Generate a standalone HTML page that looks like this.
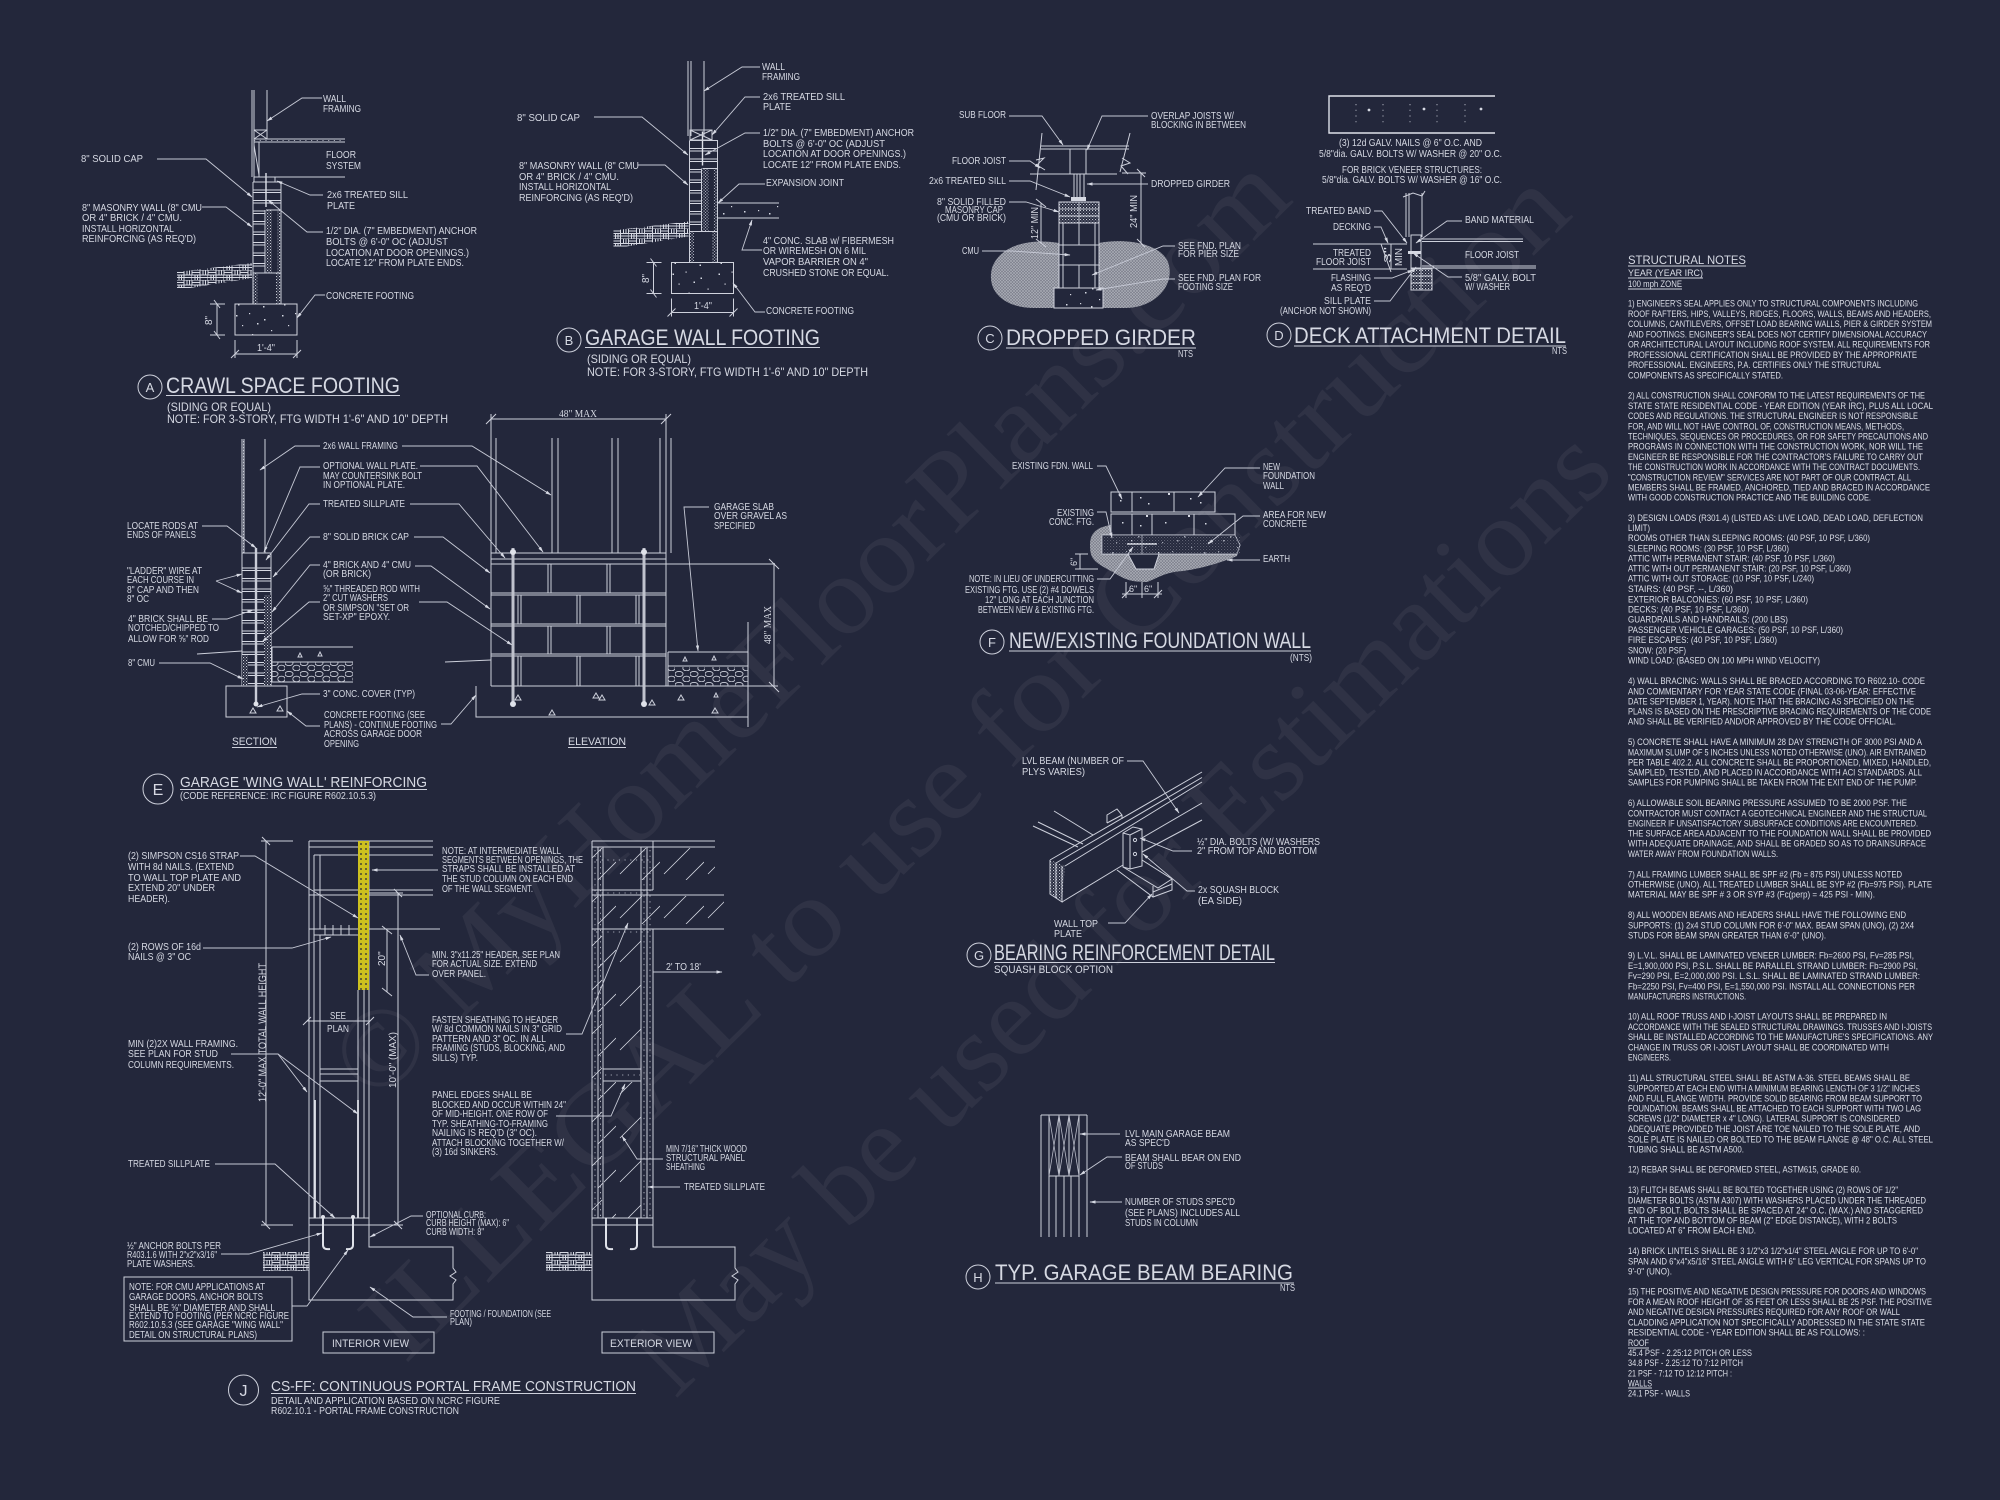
<!DOCTYPE html>
<html><head><meta charset="utf-8"><style>
html,body{margin:0;padding:0;background:#23273b}
svg{display:block;filter:blur(.3px)}
text{font-family:"Liberation Sans","DejaVu Sans",sans-serif;fill:#d6d9e3;font-size:10px}
.s{font-size:9.5px;fill:#dcdfe8}
.m{font-size:12px}
.tt{font-size:22px;fill:#d6d9e3}
.c{font-size:13px;text-anchor:middle}
.w text{font-family:"Liberation Serif",serif;font-size:112px;fill:#fff;fill-opacity:.055}
.d{fill:none;stroke:#cdd0db;stroke-width:1}
.b{fill:none;stroke:#dfe2ea;stroke-width:1.4}
.l{fill:none;stroke:#c6c9d5;stroke-width:.9;marker-end:url(#a)}
.n{fill:none;stroke:#cdd0db;stroke-width:.8;stroke-dasharray:1.2 4.5}
</style></head><body>
<svg width="2000" height="1500" viewBox="0 0 2000 1500" xmlns="http://www.w3.org/2000/svg">
<defs>
<marker id="a" markerWidth="6" markerHeight="4" refX="5.5" refY="2" orient="auto" markerUnits="userSpaceOnUse"><path d="M0 0.4L6 2L0 3.6z" fill="#d6d9e3"/></marker>
<pattern id="hd" width="3" height="3" patternUnits="userSpaceOnUse"><rect width="3" height="3" fill="#23273b"/><rect x="0" y="0" width="1.1" height="1.1" fill="#c8cbd6"/><rect x="1.5" y="1.5" width="1" height="1" fill="#aeb1bf"/></pattern>
<pattern id="ea" width="3" height="3" patternUnits="userSpaceOnUse"><rect width="3" height="3" fill="#7c7f8b"/><path d="M0 3L3 0M0 0L3 3" stroke="#aeb1bb" stroke-width=".6"/></pattern>
<pattern id="co" width="46" height="31" patternUnits="userSpaceOnUse"><g fill="#d6d9e3"><rect x="6" y="5" width="1.5" height="1.5"/><rect x="19" y="3" width="1.2" height="1.2"/><rect x="34" y="9" width="1.5" height="1.5"/><rect x="12" y="15" width="1.2" height="1.2"/><rect x="27" y="13" width="1.5" height="1.5"/><rect x="41" y="20" width="1.2" height="1.2"/><rect x="8" y="25" width="1.5" height="1.5"/><rect x="22" y="24" width="1.2" height="1.2"/><rect x="33" y="27" width="1.5" height="1.5"/></g></pattern>
<pattern id="cc" width="10.5" height="10.5" patternUnits="userSpaceOnUse"><path d="M0 1H12M0 3.5H12" stroke="#d6d9e3" stroke-width="1"/></pattern>
<pattern id="gn" width="16" height="10" patternUnits="userSpaceOnUse"><path d="M0 0H8V10M0 2.500H8M0 5H8M0 7.500H8M8 0H16V10M8 0V10M11 0V5M13.500 0V5M8 5H16M8 7.500H16M0 0V5M3 5V10M5.500 5V10" stroke="#d6d9e3" stroke-width="1" fill="none"/></pattern>
<pattern id="gr" width="15" height="11" patternUnits="userSpaceOnUse"><ellipse cx="4" cy="3" rx="4" ry="2.6" fill="none" stroke="#c8cbd6" stroke-width=".9"/><ellipse cx="11.5" cy="8" rx="3.7" ry="2.8" fill="none" stroke="#c8cbd6" stroke-width=".9"/></pattern>
<pattern id="dg" width="44" height="44" patternUnits="userSpaceOnUse"><path d="M4 38L30 12M26 44L44 26" stroke="#d6d9e3" stroke-width=".8"/></pattern>
<g id="fw">
<rect x="253" y="182" width="28" height="28" fill="url(#cc)"/><rect x="253" y="210" width="12" height="63" fill="url(#cc)"/>
<rect x="266" y="210" width="6" height="63" fill="url(#hd)"/><rect x="277" y="210" width="4" height="63" fill="url(#hd)"/>
<rect x="253" y="273" width="5" height="31" fill="url(#hd)"/><rect x="276" y="273" width="5" height="31" fill="url(#hd)"/>
<path class="d" d="M253 182H281V304M253 182V304M265 210V273M253 273H281M266 210H281"/>
<path class="b" d="M266 173V207"/>
<rect x="235" y="304" width="62" height="31" fill="url(#co)" stroke="#d0d3dd"/>
<path d="M177 272L252 263V278L190 288H177Z" fill="url(#gn)"/>
<path class="d" d="M217 304V335M210 304H225M210 335H225M214 300L220 308M214 331L220 339M235 354H297M235 340V358M297 340V358M231 358L239 350M293 358L301 350"/>
</g>
</defs>
<rect width="2000" height="1500" fill="#23273b"/>
<g class="w">
<text transform="translate(375 1105) rotate(-44.5)" textLength="1290">© MyHomeFloorPlans.com</text>
<text transform="translate(405 1365) rotate(-44.5)" textLength="1640">ILLEGAL to use for Construction</text>
<text transform="translate(675 1400) rotate(-44.5)" textLength="1320">May be used for Estimations</text>
</g>

<!-- A -->
<use href="#fw"/>
<path class="d" d="M252 90V177M254 90V177M267 90V139M254 139H345M254 142H345M254 177H345M259 142V177M254 130H267M254 130L267 139M267 130L254 139M254 145L259 175M254 182V177H275V182"/>
<path class="n" d="M254 140.5H345"/>
<polyline class="l" points="322,98 302,98 267,121"/><polyline class="l" points="157,159 206,159 252,197"/><polyline class="l" points="202,207 226,207 252,227"/><polyline class="l" points="323,195 310,195 277,181"/><polyline class="l" points="323,232 307,232 268,200"/><polyline class="l" points="325,295 315,295 297,318"/>
<text x="323" y="102" textLength="23">WALL</text><text x="323" y="112" textLength="38">FRAMING</text>
<text x="81" y="162" textLength="62">8" SOLID CAP</text>
<text x="82" y="211" textLength="120">8" MASONRY WALL (8" CMU</text><text x="82" y="221" textLength="100">OR 4" BRICK / 4" CMU.</text><text x="82" y="232" textLength="92">INSTALL HORIZONTAL</text><text x="82" y="242" textLength="114">REINFORCING (AS REQ'D)</text>
<text x="326" y="158" textLength="30">FLOOR</text><text x="326" y="169" textLength="35">SYSTEM</text>
<text x="327" y="198" textLength="81">2x6 TREATED SILL</text><text x="327" y="209" textLength="28">PLATE</text>
<text x="326" y="234" textLength="151">1/2" DIA. (7" EMBEDMENT) ANCHOR</text><text x="326" y="245" textLength="122">BOLTS @ 6'-0" OC (ADJUST</text><text x="326" y="256" textLength="143">LOCATION AT DOOR OPENINGS.)</text><text x="326" y="266" textLength="138">LOCATE 12" FROM PLATE ENDS.</text>
<text x="326" y="299" textLength="88">CONCRETE FOOTING</text>
<text transform="translate(212 325) rotate(-90)">8"</text><text x="257" y="351" textLength="18">1'-4"</text>
<circle class="d" cx="150" cy="387" r="12"/><text class="c" x="150" y="392">A</text>
<text class="tt" x="166" y="393" textLength="234">CRAWL SPACE FOOTING</text><path class="d" d="M166 395.5H400"/>
<text class="m" x="167" y="411" textLength="104">(SIDING OR EQUAL)</text><text class="m" x="167" y="423" textLength="281">NOTE: FOR 3-STORY, FTG WIDTH 1'-6" AND 10" DEPTH</text>

<!-- B -->
<use href="#fw" transform="translate(436.5 -41.5)"/>
<path class="d" d="M688 61V136M691 61V136M704 61V136M690 130H712V140H690ZM690 130L712 140M712 130L690 140M718 203H779M718 218H779"/>
<rect x="718" y="204" width="61" height="13" fill="url(#co)"/>
<polyline class="l" points="760,67 742,67 704,91"/><polyline class="l" points="760,97 745,97 712,135"/><polyline class="l" points="760,133 745,133 705,155"/><polyline class="l" points="765,184 739,184 718,203"/><polyline class="l" points="594,117 642,117 688,155"/><polyline class="l" points="638,165 665,165 688,185"/><polyline class="l" points="762,250 742,250 752,220"/><polyline class="l" points="765,312 755,312 733,283"/>
<text x="762" y="70" textLength="23">WALL</text><text x="762" y="80" textLength="38">FRAMING</text>
<text x="763" y="100" textLength="82">2x6 TREATED SILL</text><text x="763" y="110" textLength="28">PLATE</text>
<text x="763" y="136" textLength="151">1/2" DIA. (7" EMBEDMENT) ANCHOR</text><text x="763" y="147" textLength="122">BOLTS @ 6'-0" OC (ADJUST</text><text x="763" y="157" textLength="143">LOCATION AT DOOR OPENINGS.)</text><text x="763" y="168" textLength="138">LOCATE 12" FROM PLATE ENDS.</text>
<text x="766" y="186" textLength="78">EXPANSION JOINT</text>
<text x="517" y="121" textLength="63">8" SOLID CAP</text>
<text x="519" y="169" textLength="120">8" MASONRY WALL (8" CMU</text><text x="519" y="180" textLength="100">OR 4" BRICK / 4" CMU.</text><text x="519" y="190" textLength="92">INSTALL HORIZONTAL</text><text x="519" y="201" textLength="114">REINFORCING (AS REQ'D)</text>
<text x="763" y="244" textLength="131">4" CONC. SLAB w/ FIBERMESH</text><text x="763" y="254" textLength="103">OR WIREMESH ON 6 MIL</text><text x="763" y="265" textLength="105">VAPOR BARRIER ON 4"</text><text x="763" y="276" textLength="126">CRUSHED STONE OR EQUAL.</text>
<text x="766" y="314" textLength="88">CONCRETE FOOTING</text>
<text transform="translate(649 283) rotate(-90)">8"</text><text x="694" y="309" textLength="18">1'-4"</text>
<circle class="d" cx="569" cy="340" r="12"/><text class="c" x="569" y="345">B</text>
<text class="tt" x="585" y="345" textLength="235">GARAGE WALL FOOTING</text><path class="d" d="M585 347.5H820"/>
<text class="m" x="587" y="363" textLength="104">(SIDING OR EQUAL)</text><text class="m" x="587" y="376" textLength="281">NOTE: FOR 3-STORY, FTG WIDTH 1'-6" AND 10" DEPTH</text>

<!-- C -->
<path d="M1059 243C1030 238 1000 245 992 268C986 292 1005 308 1035 308H1125C1155 308 1176 285 1168 262C1160 243 1125 238 1099 243Z" fill="url(#ea)"/>
<path class="d" d="M1041 146H1129M1041 149H1129M1030 174H1117M1070 149V174M1086 149V174M1042 133L1036 190M1130 133L1120 172M1036 160L1044 158L1037 165L1045 170M1122 158L1130 163L1121 166L1128 174"/>
<path class="d" d="M1074 174V197M1077 174V197M1080 174V197M1084 174V197"/>
<rect x="1071" y="197" width="15" height="4" fill="#d6d9e3"/>
<rect x="1059" y="202" width="40" height="21" fill="url(#hd)" stroke="#d0d3dd"/>
<path class="d" d="M1059 209H1099M1059 216H1099M1079 202V223"/>
<rect x="1059" y="223" width="40" height="65" fill="#23273b" stroke="#d0d3dd"/>
<path class="d" d="M1079 223V245M1079 265V288M1059 245H1099M1059 265H1099M1063 223V288M1095 223V288"/>
<rect x="1054" y="288" width="49" height="20" fill="#23273b" stroke="#d0d3dd"/><rect x="1054" y="288" width="49" height="20" fill="url(#co)"/>
<path class="d" d="M1141 173V243M1122 173H1146M1137 169L1145 177M1137 239L1145 247M1041 203V243M1036 199L1046 207M1036 239L1046 247"/>
<polyline class="l" points="1009,116 1042,116 1063,145"/><polyline class="l" points="1148,116 1102,116 1087,150"/><polyline class="l" points="1009,161 1030,161 1040,168"/><polyline class="l" points="1009,181 1030,181 1070,197"/><polyline class="l" points="1009,202 1026,202 1059,212"/><polyline class="l" points="982,251 1012,251 1070,255"/><polyline class="l" points="1148,184 1087,184"/><polyline class="l" points="1175,246 1163,246 1092,275"/><polyline class="l" points="1175,279 1163,279 1096,290"/>
<text x="959" y="118" textLength="47">SUB FLOOR</text><text x="1151" y="119" textLength="83">OVERLAP JOISTS W/</text><text x="1151" y="128" textLength="95">BLOCKING IN BETWEEN</text>
<text x="952" y="164" textLength="54">FLOOR JOIST</text><text x="929" y="184" textLength="77">2x6 TREATED SILL</text>
<text x="937" y="205" textLength="69">8" SOLID FILLED</text><text x="945" y="213" textLength="58">MASONRY CAP</text><text x="937" y="221" textLength="69">(CMU OR BRICK)</text>
<text x="962" y="254" textLength="17">CMU</text><text x="1151" y="187" textLength="79">DROPPED GIRDER</text>
<text x="1178" y="249" textLength="63">SEE FND. PLAN</text><text x="1178" y="257" textLength="61">FOR PIER SIZE</text><text x="1178" y="281" textLength="83">SEE FND. PLAN FOR</text><text x="1178" y="290" textLength="55">FOOTING SIZE</text>
<text transform="translate(1137 228) rotate(-90)" textLength="33">24" MIN</text><text transform="translate(1038 239) rotate(-90)" textLength="32">12" MIN</text>
<circle class="d" cx="990" cy="338" r="12"/><text class="c" x="990" y="343">C</text>
<text class="tt" x="1006" y="345" textLength="190">DROPPED GIRDER</text><path class="d" d="M1006 348H1196"/><text x="1178" y="357" textLength="15">NTS</text>

<!-- D -->
<path class="b" d="M1495 96H1329V133H1495"/>
<path class="n" d="M1356 104V126M1383 104V126M1410 104V126M1437 104V126M1465 104V126" stroke-width="1.2"/>
<g fill="#d6d9e3"><circle cx="1369" cy="110" r="1.4"/><circle cx="1424" cy="109" r="1.4"/><circle cx="1481" cy="109" r="1.4"/></g>
<text x="1339" y="146" textLength="143">(3) 12d GALV. NAILS @ 6" O.C. AND</text><text x="1319" y="157" textLength="183">5/8"dia. GALV. BOLTS W/ WASHER @ 20" O.C.</text><text x="1342" y="173" textLength="140">FOR BRICK VENEER STRUCTURES:</text><text x="1322" y="183" textLength="180">5/8"dia. GALV. BOLTS W/ WASHER @ 16" O.C.</text>
<path class="d" d="M1406 193V237M1409 193V237M1422 193V237M1403 197L1413 193L1422 196L1425 191M1313 244H1407M1313 269H1407M1422 239H1523M1422 241.500H1523M1422 266H1536M1422 268H1536M1411 235H1421V268H1411ZM1391 244V269M1381 244L1391 272"/>
<rect x="1411" y="269" width="21" height="21" fill="url(#hd)" stroke="#d0d3dd"/><path class="d" d="M1411 276H1432M1411 283H1432M1421 269V290"/>
<rect x="1408" y="251" width="13" height="3" fill="#d6d9e3"/>
<text transform="translate(1391 263) rotate(-90)" textLength="16">3"</text><text transform="translate(1402 266) rotate(-90)" textLength="18">MIN</text>
<polyline class="l" points="1374,211 1382,211 1407,243"/><polyline class="l" points="1374,227 1381,227 1388,243"/><polyline class="l" points="1374,278 1392,278 1413,270"/><polyline class="l" points="1374,301 1390,301 1416,267"/><polyline class="l" points="1462,221 1447,221 1416,243"/><polyline class="l" points="1462,277 1448,277 1413,253"/>
<text x="1306" y="214" textLength="65">TREATED BAND</text><text x="1333" y="230" textLength="38">DECKING</text><text x="1333" y="256" textLength="38">TREATED</text><text x="1316" y="265" textLength="55">FLOOR JOIST</text><text x="1331" y="281" textLength="40">FLASHING</text><text x="1331" y="291" textLength="40">AS REQ'D</text><text x="1324" y="304" textLength="47">SILL PLATE</text><text x="1280" y="314" textLength="91">(ANCHOR NOT SHOWN)</text>
<text x="1465" y="223" textLength="69">BAND MATERIAL</text><text x="1465" y="258" textLength="54">FLOOR JOIST</text><text x="1465" y="281" textLength="71">5/8" GALV. BOLT</text><text x="1465" y="290" textLength="45">W/ WASHER</text>
<circle class="d" cx="1279" cy="335" r="12"/><text class="c" x="1279" y="340">D</text>
<text class="tt" x="1294" y="343" textLength="272">DECK ATTACHMENT DETAIL</text><path class="d" d="M1294 346H1566"/><text x="1552" y="354" textLength="15">NTS</text>

<!-- E section -->
<rect x="242" y="439" width="2" height="114" fill="url(#hd)"/>
<path class="d" d="M242 439V686M244 439V553M265 439V553M242 553H271M242 686H271M271 553V686"/>
<rect x="242" y="565" width="29" height="30" fill="url(#cc)"/><rect x="242" y="595" width="22" height="91" fill="url(#cc)"/>
<rect x="264" y="595" width="7" height="91" fill="url(#hd)"/><rect x="242" y="655" width="6" height="31" fill="url(#hd)"/>
<rect x="226" y="686" width="61" height="31" fill="#23273b" stroke="#d0d3dd"/>
<path d="M256 548V704" stroke="#c9ccd7" stroke-width="2.4"/><circle cx="256" cy="704" r="2.5" fill="#dfe2ea"/>
<path class="d" d="M197 654L242 651M272 647H353M272 662H353M272 647V682H353"/>
<rect x="272" y="662" width="81" height="20" fill="url(#gr)"/>
<polyline class="l" points="202,526 227,526 256,548"/><polyline class="l" points="216,581 242,574"/><polyline class="l" points="216,581 242,593"/><polyline class="l" points="212,619 227,619 253,610"/><polyline class="l" points="159,663 210,663 243,679"/>
<polyline class="l" points="320,446 295,446 260,470"/><polyline class="l" points="402,446 472,446 551,495"/><polyline class="l" points="320,467 300,467 264,552"/><polyline class="l" points="420,466 477,466 543,552"/><polyline class="l" points="320,504 309,504 266,560"/><polyline class="l" points="410,504 459,504 505,558"/><polyline class="l" points="320,537 310,537 273,577"/><polyline class="l" points="414,537 443,537 490,573"/><polyline class="l" points="320,565 310,565 272,612"/><polyline class="l" points="415,566 431,566 490,609"/><polyline class="l" points="320,602 309,602 262,642"/><polyline class="l" points="419,602 447,602 512,645"/><polyline class="l" points="320,694 302,694 257,707"/><polyline class="l" points="320,726 306,726 287,711"/><polyline class="l" points="441,724 451,724 476,695"/><polyline class="l" points="709,507 684,507 698,651"/>
<!-- E elevation -->
<path class="d" d="M491 414V686M666 414V686M486 424L496 414M661 424L671 414M491 419H666M496 438V553M552 438V553M558 438V553M612 438V553M618 438V553M660 438V553M671 438V553M491 553H666M491 559H666M491 564H666M491 593H666M491 595H666M491 624H666M491 626H666M491 654H666M491 656H666M491 686H748"/>
<path class="d" d="M548 564V593M551 564V593M607 564V593M610 564V593M518 595V624M521 595V624M577 595V624M580 595V624M636 595V624M639 595V624M548 626V654M551 626V654M607 626V654M610 626V654M518 656V686M521 656V686M577 656V686M580 656V686M636 656V686M639 656V686"/>
<path d="M513 548V704M644 548V704" stroke="#bfc2cd" stroke-width="3"/><g fill="#dfe2ea"><circle cx="513" cy="704" r="3"/><circle cx="644" cy="704" r="3"/><circle cx="513" cy="552" r="3"/><circle cx="644" cy="552" r="3"/></g>
<path class="d" d="M476 686V717H748M748 622V727M445 662L491 660M668 652H748M668 652V686M668 666H748M666 564H775M774 563V687M769 559L779 569M769 682L779 692M748 686H778"/>
<rect x="668" y="667" width="80" height="19" fill="url(#gr)"/>
<g class="d"><path d="M518 695l3 5h-6zM596 693l3 5h-6zM602 695l3 5h-6zM652 700l3 5h-6zM681 695l3 5h-6zM715 708l3 5h-6zM552 710l3 5h-6zM685 657l2 4h-4zM714 656l2 4h-4zM716 693l2 4h-4zM300 653l2 4h-4zM320 652l2 4h-4zM280 706l3 5h-6zM253 708l3 5h-6z"/></g>
<text x="127" y="529" textLength="71">LOCATE RODS AT</text><text x="127" y="538" textLength="69">ENDS OF PANELS</text>
<text x="127" y="574" textLength="75">"LADDER" WIRE AT</text><text x="127" y="583" textLength="67">EACH COURSE IN</text><text x="127" y="593" textLength="72">8" CAP AND THEN</text><text x="127" y="602" textLength="22">8" OC</text>
<text x="128" y="622" textLength="80">4" BRICK SHALL BE</text><text x="128" y="631" textLength="91">NOTCHED/CHIPPED TO</text><text x="128" y="642" textLength="81">ALLOW FOR ⅝" ROD</text><text x="128" y="666" textLength="27">8" CMU</text>
<text x="323" y="449" textLength="75">2x6 WALL FRAMING</text><text x="323" y="469" textLength="95">OPTIONAL WALL PLATE.</text><text x="323" y="479" textLength="99">MAY COUNTERSINK BOLT</text><text x="323" y="488" textLength="82">IN OPTIONAL PLATE.</text><text x="323" y="507" textLength="82">TREATED SILLPLATE</text><text x="323" y="540" textLength="86">8" SOLID BRICK CAP</text><text x="323" y="568" textLength="88">4" BRICK AND 4" CMU</text><text x="323" y="577" textLength="48">(OR BRICK)</text>
<text x="323" y="592" textLength="97">⅝" THREADED ROD WITH</text><text x="323" y="601" textLength="65">2" CUT WASHERS</text><text x="323" y="611" textLength="86">OR SIMPSON "SET OR</text><text x="323" y="620" textLength="67">SET-XP" EPOXY.</text>
<text x="323" y="697" textLength="92">3" CONC. COVER (TYP)</text><text x="324" y="718" textLength="101">CONCRETE FOOTING (SEE</text><text x="324" y="728" textLength="113">PLANS) - CONTINUE FOOTING</text><text x="324" y="737" textLength="98">ACROSS GARAGE DOOR</text><text x="324" y="747" textLength="35">OPENING</text>
<text x="232" y="745" textLength="45" style="font-size:11px">SECTION</text><path class="d" d="M232 747.500H277M568 747.500H626"/><text x="568" y="745" textLength="58" style="font-size:11px">ELEVATION</text>
<text x="559" y="417" textLength="38" style="font-family:'Liberation Serif',serif">48" MAX</text><text transform="translate(771 644) rotate(-90)" textLength="38" style="font-family:'Liberation Serif',serif">48" MAX</text>
<text x="714" y="510" textLength="60">GARAGE SLAB</text><text x="714" y="519" textLength="73">OVER GRAVEL AS</text><text x="714" y="529" textLength="41">SPECIFIED</text>
<circle class="d" cx="158" cy="789" r="15"/><text class="c" x="158" y="795" style="font-size:16px">E</text>
<text x="180" y="787" textLength="247" style="font-size:15px">GARAGE 'WING WALL' REINFORCING</text><path class="d" d="M180 789.500H427"/><text x="180" y="799" textLength="196">(CODE REFERENCE: IRC FIGURE R602.10.5.3)</text>

<!-- J interior -->
<path class="d" d="M309 841V1225M369 841V1225M314 855V1218M320 855V929M320 935V1218M358 990V1218M364 990V1218M309 841H433M309 847H433M314 855H433M314 890H433M309 895H433M320 855V890M309 929H440M314 935H358M320 1069H358M320 1074H358M320 1081H358M309 1218H369M309 1225H369"/>
<path class="d" d="M325 925V935M333 925V935M341 925V935M349 925V935"/>
<path d="M315 1100V1218M358 1100V1218" stroke="#dfe2ea" stroke-width="1.8" fill="none"/>
<rect x="358" y="841" width="11" height="149" fill="#cdc11f"/><path d="M361 843V990M366 843V990" stroke="#23273b" stroke-width="1.2" stroke-dasharray="2 3"/>
<path class="d" d="M309 1225H369V1247H453V1268L456 1272L450 1276L456 1280L453 1284V1300H309Z" fill="url(#co)"/>
<path d="M323 1218V1245Q323 1250 330 1249M353 1218V1245Q353 1250 346 1249" fill="none" stroke="#dfe2ea" stroke-width="2"/><circle cx="323" cy="1217" r="2" fill="#dfe2ea"/><circle cx="353" cy="1217" r="2" fill="#dfe2ea"/>
<path d="M263 1252H309V1271H263Z" fill="url(#gn)"/>
<path class="d" d="M266 841V1225M261 841H293M261 1225H293M262 837L270 845M262 1221L270 1229M398 893V1225M369 893H403M369 1225H403M394 889L402 897M394 1221L402 1229M387 930V992M382 926L392 934M382 988L392 996M307 1021H370M303 1025L311 1017M366 1025L374 1017"/>
<!-- J exterior -->
<path class="d" d="M592 841V1225M653 929V1225M592 841H715M592 847H715M592 890H653M592 895H724M592 929H724M598 847V1218M603 847V1218M641 847V1218M647 847V1218M603 1069H641M603 1081H641M592 1218H653M592 1225H653M653 841V890"/>
<rect x="592" y="848" width="123" height="42" fill="url(#dg)"/><rect x="592" y="896" width="132" height="33" fill="url(#dg)"/><rect x="604" y="936" width="37" height="133" fill="url(#dg)"/><rect x="604" y="1082" width="37" height="136" fill="url(#dg)"/><rect x="592" y="930" width="11" height="288" fill="url(#dg)"/>
<path class="n" d="M595 850V1216M600.500 850V1216M644 850V1216M650 850V1216M596 860H652M596 893H652M596 932H652M605 1075H640"/>
<path class="d" d="M592 1225H653V1247H735V1268L738 1272L732 1276L738 1280L735 1284V1300H592Z" fill="url(#co)"/>
<path d="M606 1218V1245Q606 1250 613 1249M637 1218V1245Q637 1250 630 1249" fill="none" stroke="#dfe2ea" stroke-width="2"/>
<path d="M546 1252H592V1271H546Z" fill="url(#gn)"/>
<polyline class="l" points="653,972 722,972"/>
<polyline class="l" points="240,856 255,856 358,918"/><polyline class="l" points="203,948 292,948 331,937"/><polyline class="l" points="231,1054 278,1054 307,1092"/><polyline class="l" points="278,1054 358,1114"/><polyline class="l" points="215,1164 275,1164 335,1218"/><polyline class="l" points="221,1254 249,1254 322,1233"/><polyline class="l" points="292,1306 307,1306 348,1250"/><polyline class="l" points="438,870 372,870"/><polyline class="l" points="429,975 416,975 400,935"/><polyline class="l" points="566,1034 582,1034 628,923"/><polyline class="l" points="556,1116 611,1116 625,1084"/><polyline class="l" points="663,1159 637,1159 622,1136"/><polyline class="l" points="680,1187 648,1187"/><polyline class="l" points="423,1216 411,1216 370,1237"/><polyline class="l" points="447,1317 413,1317 370,1287"/>
<text x="128" y="859" textLength="111">(2) SIMPSON CS16 STRAP</text><text x="128" y="870" textLength="106">WITH 8d NAILS. (EXTEND</text><text x="128" y="881" textLength="113">TO WALL TOP PLATE AND</text><text x="128" y="891" textLength="87">EXTEND 20" UNDER</text><text x="128" y="902" textLength="42">HEADER).</text>
<text x="128" y="950" textLength="73">(2) ROWS OF 16d</text><text x="128" y="960" textLength="63">NAILS @ 3" OC</text>
<text x="128" y="1047" textLength="110">MIN (2)2X WALL FRAMING.</text><text x="128" y="1057" textLength="90">SEE PLAN FOR STUD</text><text x="128" y="1068" textLength="106">COLUMN REQUIREMENTS.</text>
<text x="128" y="1167" textLength="82">TREATED SILLPLATE</text><text x="127" y="1249" textLength="94">½" ANCHOR BOLTS PER</text><text x="127" y="1258" textLength="90">R403.1.6 WITH 2"x2"x3/16"</text><text x="127" y="1267" textLength="68">PLATE WASHERS.</text>
<rect class="d" x="124" y="1277" width="168" height="64"/>
<text x="129" y="1290" textLength="136">NOTE: FOR CMU APPLICATIONS AT</text><text x="129" y="1300" textLength="134">GARAGE DOORS, ANCHOR BOLTS</text><text x="129" y="1311" textLength="146">SHALL BE ⅝" DIAMETER AND SHALL</text><text x="129" y="1319" textLength="160">EXTEND TO FOOTING (PER NCRC FIGURE</text><text x="129" y="1328" textLength="154">R602.10.5.3 (SEE GARAGE "WING WALL"</text><text x="129" y="1338" textLength="128">DETAIL ON STRUCTURAL PLANS)</text>
<text x="442" y="854" textLength="119">NOTE: AT INTERMEDIATE WALL</text><text x="442" y="863" textLength="141">SEGMENTS BETWEEN OPENINGS, THE</text><text x="442" y="872" textLength="133">STRAPS SHALL BE INSTALLED AT</text><text x="442" y="882" textLength="131">THE STUD COLUMN ON EACH END</text><text x="442" y="892" textLength="91">OF THE WALL SEGMENT.</text>
<text x="432" y="958" textLength="128">MIN. 3"x11.25" HEADER, SEE PLAN</text><text x="432" y="967" textLength="105">FOR ACTUAL SIZE. EXTEND</text><text x="432" y="977" textLength="54">OVER PANEL.</text>
<text x="432" y="1023" textLength="126">FASTEN SHEATHING TO HEADER</text><text x="432" y="1032" textLength="130">W/ 8d COMMON NAILS IN 3" GRID</text><text x="432" y="1042" textLength="114">PATTERN AND 3" OC. IN ALL</text><text x="432" y="1051" textLength="133">FRAMING (STUDS, BLOCKING, AND</text><text x="432" y="1061" textLength="46">SILLS) TYP.</text>
<text x="432" y="1098" textLength="100">PANEL EDGES SHALL BE</text><text x="432" y="1108" textLength="134">BLOCKED AND OCCUR WITHIN 24"</text><text x="432" y="1117" textLength="116">OF MID-HEIGHT. ONE ROW OF</text><text x="432" y="1127" textLength="116">TYP. SHEATHING-TO-FRAMING</text><text x="432" y="1136" textLength="105">NAILING IS REQ'D (3" OC).</text><text x="432" y="1146" textLength="132">ATTACH BLOCKING TOGETHER W/</text><text x="432" y="1155" textLength="66">(3) 16d SINKERS.</text>
<text x="666" y="970" textLength="35">2' TO 18'</text><text x="666" y="1152" textLength="81">MIN 7/16" THICK WOOD</text><text x="666" y="1161" textLength="79">STRUCTURAL PANEL</text><text x="666" y="1170" textLength="39">SHEATHING</text><text x="684" y="1190" textLength="81">TREATED SILLPLATE</text>
<text x="426" y="1218" textLength="60">OPTIONAL CURB:</text><text x="426" y="1226" textLength="83">CURB HEIGHT (MAX): 6"</text><text x="426" y="1235" textLength="58">CURB WIDTH: 8"</text>
<text x="450" y="1317" textLength="101">FOOTING / FOUNDATION (SEE</text><text x="450" y="1325" textLength="22">PLAN)</text>
<text x="330" y="1019" textLength="16">SEE</text><text x="327" y="1032" textLength="22">PLAN</text>
<text transform="translate(266 1102) rotate(-90)" textLength="139" style="font-size:11px">12'-0" MAX TOTAL WALL HEIGHT</text><text transform="translate(396 1088) rotate(-90)" textLength="56">10'-0" (MAX)</text><text transform="translate(385 966) rotate(-90)">20"</text>
<rect class="d" x="323" y="1332" width="111" height="21"/><text x="332" y="1347" textLength="77" style="font-size:11px">INTERIOR VIEW</text><rect class="d" x="602" y="1332" width="112" height="21"/><text x="610" y="1347" textLength="82" style="font-size:11px">EXTERIOR VIEW</text>
<circle class="d" cx="243.500" cy="1390" r="15"/><text class="c" x="243.500" y="1396" style="font-size:16px">J</text>
<text x="271" y="1391" textLength="365" style="font-size:15px">CS-FF: CONTINUOUS PORTAL FRAME CONSTRUCTION</text><path class="d" d="M271 1393.500H636"/><text x="271" y="1404" textLength="229">DETAIL AND APPLICATION BASED ON NCRC FIGURE</text><text x="271" y="1414" textLength="188">R602.10.1 - PORTAL FRAME CONSTRUCTION</text>

<!-- F -->
<path d="M1111 525C1098 527 1090 532 1090 545C1090 558 1093 562 1113 572C1125 580 1132 582 1147 582C1158 578 1165 572 1183 571C1205 568 1225 561 1237 556L1240 540H1111Z" fill="url(#ea)"/>
<rect x="1102" y="535" width="138" height="19" fill="#23273b"/><rect x="1102" y="535" width="138" height="19" fill="url(#co)"/>
<path d="M1128 554L1136 569H1154L1159 554Z" fill="#23273b"/>
<path class="d" d="M1111 492H1215V512H1111ZM1132 492V512M1174 492V512M1111 514H1235V535H1111ZM1132 514V535M1152 514V535M1194 514V535M1102 535H1235L1240 545L1237 554H1102ZM1102 535V554M1142 535V554M1128 554L1136 569H1154L1159 554"/>
<rect x="1127" y="543" width="30" height="2" fill="#e0e3eb"/>
<path d="M1102 535h138v19h-138z" fill="url(#hd)" opacity=".35"/>
<g fill="#d6d9e3"><rect x="1120" y="500" width="1.500" height="1.500"/><rect x="1140" y="497" width="1.500" height="1.500"/><rect x="1148" y="503" width="1.500" height="1.500"/><rect x="1190" y="498" width="1.500" height="1.500"/><rect x="1200" y="502" width="1.500" height="1.500"/><rect x="1122" y="522" width="1.500" height="1.500"/><rect x="1140" y="525" width="1.500" height="1.500"/><rect x="1165" y="522" width="1.500" height="1.500"/><rect x="1205" y="523" width="1.500" height="1.500"/><rect x="1168" y="493" width="2" height="2"/><rect x="1146" y="515" width="2" height="2"/><rect x="1188" y="515" width="2" height="2"/></g>
<path class="d" d="M1126 582V598M1142 582V598M1158 582V598M1122 598L1130 590M1154 598L1162 590M1122 594H1162M1075 554H1088M1075 569H1098M1080 554V569"/>
<text x="1129" y="592" style="font-size:9px">6"</text><text x="1144" y="592" style="font-size:9px">6"</text><text transform="translate(1077 566) rotate(-90)" style="font-size:9px">6"</text>
<polyline class="l" points="1097,466 1106,466 1122,499"/><polyline class="l" points="1097,512 1106,512 1112,538"/><polyline class="l" points="1097,579 1110,579 1133,547"/><polyline class="l" points="1260,468 1225,468 1198,497"/><polyline class="l" points="1260,516 1243,516 1208,544"/><polyline class="l" points="1260,560 1227,560"/>
<text x="1012" y="469" textLength="81">EXISTING FDN. WALL</text><text x="1057" y="516" textLength="37">EXISTING</text><text x="1049" y="525" textLength="45">CONC. FTG.</text>
<text x="969" y="582" textLength="125">NOTE: IN LIEU OF UNDERCUTTING</text><text x="965" y="593" textLength="129">EXISTING FTG. USE (2) #4 DOWELS</text><text x="985" y="603" textLength="109">12" LONG AT EACH JUNCTION</text><text x="978" y="613" textLength="116">BETWEEN NEW &amp; EXISTING FTG.</text>
<text x="1263" y="470" textLength="17">NEW</text><text x="1263" y="479" textLength="52">FOUNDATION</text><text x="1263" y="489" textLength="21">WALL</text><text x="1263" y="518" textLength="63">AREA FOR NEW</text><text x="1263" y="527" textLength="44">CONCRETE</text><text x="1263" y="562" textLength="27">EARTH</text>
<circle class="d" cx="992" cy="642" r="12"/><text class="c" x="992" y="647">F</text>
<text class="tt" x="1009" y="648" textLength="302">NEW/EXISTING FOUNDATION WALL</text><path class="d" d="M1009 651H1311"/><text x="1290" y="661" textLength="22">(NTS)</text>

<!-- G -->
<path d="M1050 860L1065 866L1062 902L1050 894Z" fill="url(#hd)"/>
<path class="d" d="M1050 860L1202 772M1056 863L1202 777.500M1065 866L1202 782M1050 860V894L1062 902V866M1056 863V898M1062 902L1123 865M1142 852L1202 820"/>
<path class="d" d="M1033 826L1078 847M1038 822L1083 844M1054 811L1093 835M1107 823V815L1117 809L1122 815L1122 819M1107 823L1122 815"/>
<path class="d" d="M1123 833L1133 827L1142 829V866L1130 869L1123 867ZM1130 835V869M1123 833L1130 835L1142 829"/>
<circle class="d" cx="1135" cy="840" r="1.600"/><circle class="d" cx="1135" cy="854" r="1.600"/>
<path class="d" d="M1117 870L1153 897L1172 890V879L1142 860M1123 867L1158 888L1172 879M1153 897V886M1153 892L1172 884"/>
<polyline class="l" points="1127,761 1143,761 1179,813"/><polyline class="l" points="1192,851 1173,851 1140,838"/><polyline class="l" points="1195,891 1187,891 1143,854"/><polyline class="l" points="1108,923 1125,923 1152,894"/>
<path class="d" d="M1142 838L1202 803"/>
<text x="1022" y="764" textLength="102">LVL BEAM (NUMBER OF</text><text x="1022" y="775" textLength="63">PLYS VARIES)</text><text x="1197" y="845" textLength="123">½" DIA. BOLTS (W/ WASHERS</text><text x="1197" y="854" textLength="120">2" FROM TOP AND BOTTOM</text><text x="1198" y="893" textLength="81">2x SQUASH BLOCK</text><text x="1198" y="904" textLength="44">(EA SIDE)</text><text x="1054" y="927" textLength="44">WALL TOP</text><text x="1054" y="937" textLength="28">PLATE</text>
<circle class="d" cx="979" cy="955" r="12"/><text class="c" x="979" y="960">G</text>
<text class="tt" x="994" y="960" textLength="281">BEARING REINFORCEMENT DETAIL</text><path class="d" d="M994 962.500H1275"/><text x="994" y="973" textLength="119" style="font-size:11px">SQUASH BLOCK OPTION</text>

<!-- H -->
<path class="d" d="M1041 1115H1087M1041 1115V1237M1087 1115V1237M1049 1115V1237M1079 1115V1176M1049 1176H1079M1056 1176V1237M1064 1176V1237M1071 1176V1237M1079 1176V1237M1059 1115V1176M1069 1115V1176"/>
<path d="M1049 1115L1059 1176M1059 1115L1049 1176M1059 1115L1069 1176M1069 1115L1059 1176M1069 1115L1079 1176M1079 1115L1069 1176" stroke="#b6b9c6" stroke-width=".8" fill="none"/>
<polyline class="l" points="1120,1134 1080,1134"/><polyline class="l" points="1122,1157 1107,1157 1080,1175"/><polyline class="l" points="1122,1202 1090,1202"/>
<text x="1125" y="1137" textLength="105">LVL MAIN GARAGE BEAM</text><text x="1125" y="1146" textLength="45">AS SPEC'D</text><text x="1125" y="1161" textLength="116">BEAM SHALL BEAR ON END</text><text x="1125" y="1169" textLength="38">OF STUDS</text><text x="1125" y="1205" textLength="110">NUMBER OF STUDS SPEC'D</text><text x="1125" y="1216" textLength="115">(SEE PLANS) INCLUDES ALL</text><text x="1125" y="1226" textLength="73">STUDS IN COLUMN</text>
<circle class="d" cx="978" cy="1277" r="12"/><text class="c" x="978" y="1282">H</text>
<text class="tt" x="995" y="1280" textLength="298">TYP. GARAGE BEAM BEARING</text><path class="d" d="M995 1283H1294"/><text x="1280" y="1291" textLength="15">NTS</text>

<!-- Notes -->
<g class="notes">
<text x="1628" y="264" textLength="118" style="font-size:12px">STRUCTURAL NOTES</text><path class="d" d="M1628 266H1746M1628 278H1703M1628 289H1682M1628 1348H1649M1628 1388H1652"/>
<text class="s" x="1628" y="276" textLength="75">YEAR (YEAR IRC)</text><text class="s" x="1628" y="287" textLength="54">100 mph ZONE</text>
<text class="s" x="1628" y="306.700" textLength="290">1) ENGINEER'S SEAL APPLIES ONLY TO STRUCTURAL COMPONENTS INCLUDING</text>
<text class="s" x="1628" y="317" textLength="303">ROOF RAFTERS, HIPS, VALLEYS, RIDGES, FLOORS, WALLS, BEAMS AND HEADERS,</text>
<text class="s" x="1628" y="327" textLength="304">COLUMNS, CANTILEVERS, OFFSET LOAD BEARING WALLS, PIER &amp; GIRDER SYSTEM</text>
<text class="s" x="1628" y="337.300" textLength="299">AND FOOTINGS. ENGINEER'S SEAL DOES NOT CERTIFY DIMENSIONAL ACCURACY</text>
<text class="s" x="1628" y="347.700" textLength="302">OR ARCHITECTURAL LAYOUT INCLUDING ROOF SYSTEM. ALL REQUIREMENTS FOR</text>
<text class="s" x="1628" y="358" textLength="289">PROFESSIONAL CERTIFICATION SHALL BE PROVIDED BY THE APPROPRIATE</text>
<text class="s" x="1628" y="368" textLength="253">PROFESSIONAL. ENGINEERS, P.A. CERTIFIES ONLY THE STRUCTURAL</text>
<text class="s" x="1628" y="378.300" textLength="155">COMPONENTS AS SPECIFICALLY STATED.</text>
<text class="s" x="1628" y="398.700" textLength="297">2) ALL CONSTRUCTION SHALL CONFORM TO THE LATEST REQUIREMENTS OF THE</text>
<text class="s" x="1628" y="409" textLength="305">STATE STATE RESIDENTIAL CODE - YEAR EDITION (YEAR IRC), PLUS ALL LOCAL</text>
<text class="s" x="1628" y="419" textLength="290">CODES AND REGULATIONS. THE STRUCTURAL ENGINEER IS NOT RESPONSIBLE</text>
<text class="s" x="1628" y="429.300" textLength="276">FOR, AND WILL NOT HAVE CONTROL OF, CONSTRUCTION MEANS, METHODS,</text>
<text class="s" x="1628" y="439.300" textLength="300">TECHNIQUES, SEQUENCES OR PROCEDURES, OR FOR SAFETY PRECAUTIONS AND</text>
<text class="s" x="1628" y="449.700" textLength="295">PROGRAMS IN CONNECTION WITH THE CONSTRUCTION WORK, NOR WILL THE</text>
<text class="s" x="1628" y="460" textLength="295">ENGINEER BE RESPONSIBLE FOR THE CONTRACTOR'S FAILURE TO CARRY OUT</text>
<text class="s" x="1628" y="470" textLength="292">THE CONSTRUCTION WORK IN ACCORDANCE WITH THE CONTRACT DOCUMENTS.</text>
<text class="s" x="1628" y="480.300" textLength="283">"CONSTRUCTION REVIEW" SERVICES ARE NOT PART OF OUR CONTRACT. ALL</text>
<text class="s" x="1628" y="490.300" textLength="302">MEMBERS SHALL BE FRAMED, ANCHORED, TIED AND BRACED IN ACCORDANCE</text>
<text class="s" x="1628" y="500.700" textLength="243">WITH GOOD CONSTRUCTION PRACTICE AND THE BUILDING CODE.</text>
<text class="s" x="1628" y="521" textLength="295">3) DESIGN LOADS (R301.4) (LISTED AS: LIVE LOAD, DEAD LOAD, DEFLECTION</text>
<text class="s" x="1628" y="531" textLength="22">LIMIT)</text>
<text class="s" x="1628" y="541" textLength="242">ROOMS OTHER THAN SLEEPING ROOMS: (40 PSF, 10 PSF, L/360)</text>
<text class="s" x="1628" y="551.300" textLength="161">SLEEPING ROOMS: (30 PSF, 10 PSF, L/360)</text>
<text class="s" x="1628" y="561.700" textLength="207">ATTIC WITH PERMANENT STAIR: (40 PSF, 10 PSF, L/360)</text>
<text class="s" x="1628" y="571.700" textLength="223">ATTIC WITH OUT PERMANENT STAIR: (20 PSF, 10 PSF, L/360)</text>
<text class="s" x="1628" y="581.700" textLength="186">ATTIC WITH OUT STORAGE: (10 PSF, 10 PSF, L/240)</text>
<text class="s" x="1628" y="592" textLength="105">STAIRS: (40 PSF, --, L/360)</text>
<text class="s" x="1628" y="602.300" textLength="180">EXTERIOR BALCONIES: (60 PSF, 10 PSF, L/360)</text>
<text class="s" x="1628" y="612.700" textLength="121">DECKS: (40 PSF, 10 PSF, L/360)</text>
<text class="s" x="1628" y="622.700" textLength="160">GUARDRAILS AND HANDRAILS: (200 LBS)</text>
<text class="s" x="1628" y="633" textLength="215">PASSENGER VEHICLE GARAGES: (50 PSF, 10 PSF, L/360)</text>
<text class="s" x="1628" y="643" textLength="149">FIRE ESCAPES: (40 PSF, 10 PSF, L/360)</text>
<text class="s" x="1628" y="653.300" textLength="58">SNOW: (20 PSF)</text>
<text class="s" x="1628" y="663.300" textLength="192">WIND LOAD: (BASED ON 100 MPH WIND VELOCITY)</text>
<text class="s" x="1628" y="684" textLength="297">4) WALL BRACING: WALLS SHALL BE BRACED ACCORDING TO R602.10- CODE</text>
<text class="s" x="1628" y="694.300" textLength="288">AND COMMENTARY FOR YEAR STATE CODE (FINAL 03-06-YEAR: EFFECTIVE</text>
<text class="s" x="1628" y="704.300" textLength="286">DATE SEPTEMBER 1, YEAR). NOTE THAT THE BRACING AS SPECIFIED ON THE</text>
<text class="s" x="1628" y="714.700" textLength="303">PLANS IS BASED ON THE PRESCRIPTIVE BRACING REQUIREMENTS OF THE CODE</text>
<text class="s" x="1628" y="724.700" textLength="268">AND SHALL BE VERIFIED AND/OR APPROVED BY THE CODE OFFICIAL.</text>
<text class="s" x="1628" y="745" textLength="294">5) CONCRETE SHALL HAVE A MINIMUM 28 DAY STRENGTH OF 3000 PSI AND A</text>
<text class="s" x="1628" y="755.300" textLength="298">MAXIMUM SLUMP OF 5 INCHES UNLESS NOTED OTHERWISE (UNO). AIR ENTRAINED</text>
<text class="s" x="1628" y="765.300" textLength="303">PER TABLE 402.2. ALL CONCRETE SHALL BE PROPORTIONED, MIXED, HANDLED,</text>
<text class="s" x="1628" y="775.700" textLength="294">SAMPLED, TESTED, AND PLACED IN ACCORDANCE WITH ACI STANDARDS. ALL</text>
<text class="s" x="1628" y="785.700" textLength="289">SAMPLES FOR PUMPING SHALL BE TAKEN FROM THE EXIT END OF THE PUMP.</text>
<text class="s" x="1628" y="806" textLength="279">6) ALLOWABLE SOIL BEARING PRESSURE ASSUMED TO BE 2000 PSF. THE</text>
<text class="s" x="1628" y="816.300" textLength="299">CONTRACTOR MUST CONTACT A GEOTECHNICAL ENGINEER AND THE STRUCTUAL</text>
<text class="s" x="1628" y="826.300" textLength="290">ENGINEER IF UNSATISFACTORY SUBSURFACE CONDITIONS ARE ENCOUNTERED.</text>
<text class="s" x="1628" y="836.700" textLength="303">THE SURFACE AREA ADJACENT TO THE FOUNDATION WALL SHALL BE PROVIDED</text>
<text class="s" x="1628" y="846.700" textLength="298">WITH ADEQUATE DRAINAGE, AND SHALL BE GRADED SO AS TO DRAINSURFACE</text>
<text class="s" x="1628" y="857" textLength="150">WATER AWAY FROM FOUNDATION WALLS.</text>
<text class="s" x="1628" y="877.300" textLength="274">7) ALL FRAMING LUMBER SHALL BE SPF #2 (Fb = 875 PSI) UNLESS NOTED</text>
<text class="s" x="1628" y="887.700" textLength="304">OTHERWISE (UNO). ALL TREATED LUMBER SHALL BE SYP #2 (Fb=975 PSI). PLATE</text>
<text class="s" x="1628" y="897.700" textLength="247">MATERIAL MAY BE SPF # 3 OR SYP #3 (Fc(perp) = 425 PSI - MIN).</text>
<text class="s" x="1628" y="918" textLength="278">8) ALL WOODEN BEAMS AND HEADERS SHALL HAVE THE FOLLOWING END</text>
<text class="s" x="1628" y="928.300" textLength="286">SUPPORTS: (1) 2x4 STUD COLUMN FOR 6'-0" MAX. BEAM SPAN (UNO), (2) 2X4</text>
<text class="s" x="1628" y="938.300" textLength="198">STUDS FOR BEAM SPAN GREATER THAN 6'-0" (UNO).</text>
<text class="s" x="1628" y="958.700" textLength="286">9) L.V.L. SHALL BE LAMINATED VENEER LUMBER: Fb=2600 PSI, Fv=285 PSI,</text>
<text class="s" x="1628" y="969" textLength="290">E=1,900,000 PSI, P.S.L. SHALL BE PARALLEL STRAND LUMBER: Fb=2900 PSI,</text>
<text class="s" x="1628" y="979" textLength="292">Fv=290 PSI, E=2,000,000 PSI. L.S.L. SHALL BE LAMINATED STRAND LUMBER:</text>
<text class="s" x="1628" y="989.300" textLength="287">Fb=2250 PSI, Fv=400 PSI, E=1,550,000 PSI. INSTALL ALL CONNECTIONS PER</text>
<text class="s" x="1628" y="999.300" textLength="118">MANUFACTURERS INSTRUCTIONS.</text>
<text class="s" x="1628" y="1019.700" textLength="259">10) ALL ROOF TRUSS AND I-JOIST LAYOUTS SHALL BE PREPARED IN</text>
<text class="s" x="1628" y="1030" textLength="304">ACCORDANCE WITH THE SEALED STRUCTURAL DRAWINGS. TRUSSES AND I-JOISTS</text>
<text class="s" x="1628" y="1040" textLength="305">SHALL BE INSTALLED ACCORDING TO THE MANUFACTURE'S SPECIFICATIONS. ANY</text>
<text class="s" x="1628" y="1050.300" textLength="261">CHANGE IN TRUSS OR I-JOIST LAYOUT SHALL BE COORDINATED WITH</text>
<text class="s" x="1628" y="1060.300" textLength="43">ENGINEERS.</text>
<text class="s" x="1628" y="1081" textLength="282">11) ALL STRUCTURAL STEEL SHALL BE ASTM A-36. STEEL BEAMS SHALL BE</text>
<text class="s" x="1628" y="1091.300" textLength="292">SUPPORTED AT EACH END WITH A MINIMUM BEARING LENGTH OF 3 1/2" INCHES</text>
<text class="s" x="1628" y="1101.300" textLength="294">AND FULL FLANGE WIDTH. PROVIDE SOLID BEARING FROM BEAM SUPPORT TO</text>
<text class="s" x="1628" y="1111.700" textLength="293">FOUNDATION. BEAMS SHALL BE ATTACHED TO EACH SUPPORT WITH TWO LAG</text>
<text class="s" x="1628" y="1121.700" textLength="272">SCREWS (1/2" DIAMETER x 4" LONG). LATERAL SUPPORT IS CONSIDERED</text>
<text class="s" x="1628" y="1132" textLength="292">ADEQUATE PROVIDED THE JOIST ARE TOE NAILED TO THE SOLE PLATE, AND</text>
<text class="s" x="1628" y="1142.300" textLength="305">SOLE PLATE IS NAILED OR BOLTED TO THE BEAM FLANGE @ 48" O.C. ALL STEEL</text>
<text class="s" x="1628" y="1152.300" textLength="116">TUBING SHALL BE ASTM A500.</text>
<text class="s" x="1628" y="1172.700" textLength="233">12) REBAR SHALL BE DEFORMED STEEL, ASTM615, GRADE 60.</text>
<text class="s" x="1628" y="1193" textLength="270">13) FLITCH BEAMS SHALL BE BOLTED TOGETHER USING (2) ROWS OF 1/2"</text>
<text class="s" x="1628" y="1203.300" textLength="298">DIAMETER BOLTS (ASTM A307) WITH WASHERS PLACED UNDER THE THREADED</text>
<text class="s" x="1628" y="1213.300" textLength="295">END OF BOLT. BOLTS SHALL BE SPACED AT 24" O.C. (MAX.) AND STAGGERED</text>
<text class="s" x="1628" y="1223.700" textLength="269">AT THE TOP AND BOTTOM OF BEAM (2" EDGE DISTANCE), WITH 2 BOLTS</text>
<text class="s" x="1628" y="1233.700" textLength="128">LOCATED AT 6" FROM EACH END.</text>
<text class="s" x="1628" y="1254" textLength="290">14) BRICK LINTELS SHALL BE 3 1/2"x3 1/2"x1/4" STEEL ANGLE FOR UP TO 6'-0"</text>
<text class="s" x="1628" y="1264.300" textLength="298">SPAN AND 6"x4"x5/16" STEEL ANGLE WITH 6" LEG VERTICAL FOR SPANS UP TO</text>
<text class="s" x="1628" y="1274.300" textLength="44">9'-0" (UNO).</text>
<text class="s" x="1628" y="1294.700" textLength="298">15) THE POSITIVE AND NEGATIVE DESIGN PRESSURE FOR DOORS AND WINDOWS</text>
<text class="s" x="1628" y="1305" textLength="304">FOR A MEAN ROOF HEIGHT OF 35 FEET OR LESS SHALL BE 25 PSF. THE POSITIVE</text>
<text class="s" x="1628" y="1315" textLength="272">AND NEGATIVE DESIGN PRESSURES REQUIRED FOR ANY ROOF OR WALL</text>
<text class="s" x="1628" y="1325.300" textLength="297">CLADDING APPLICATION NOT SPECIFICALLY ADDRESSED IN THE STATE STATE</text>
<text class="s" x="1628" y="1335.300" textLength="237">RESIDENTIAL CODE - YEAR EDITION SHALL BE AS FOLLOWS: :</text>
<text class="s" x="1628" y="1346" textLength="21">ROOF</text>
<text class="s" x="1628" y="1356" textLength="124">45.4 PSF - 2.25:12 PITCH OR LESS</text>
<text class="s" x="1628" y="1366" textLength="115">34.8 PSF - 2.25:12 TO 7:12 PITCH</text>
<text class="s" x="1628" y="1376.300" textLength="104">21 PSF - 7:12 TO 12:12 PITCH :</text>
<text class="s" x="1628" y="1386.300" textLength="24">WALLS</text>
<text class="s" x="1628" y="1396.700" textLength="62">24.1 PSF - WALLS</text>
</g>
</svg>
<script>document.querySelectorAll('text[textLength]').forEach(function(t){t.setAttribute('lengthAdjust','spacingAndGlyphs')});</script>
</body></html>
